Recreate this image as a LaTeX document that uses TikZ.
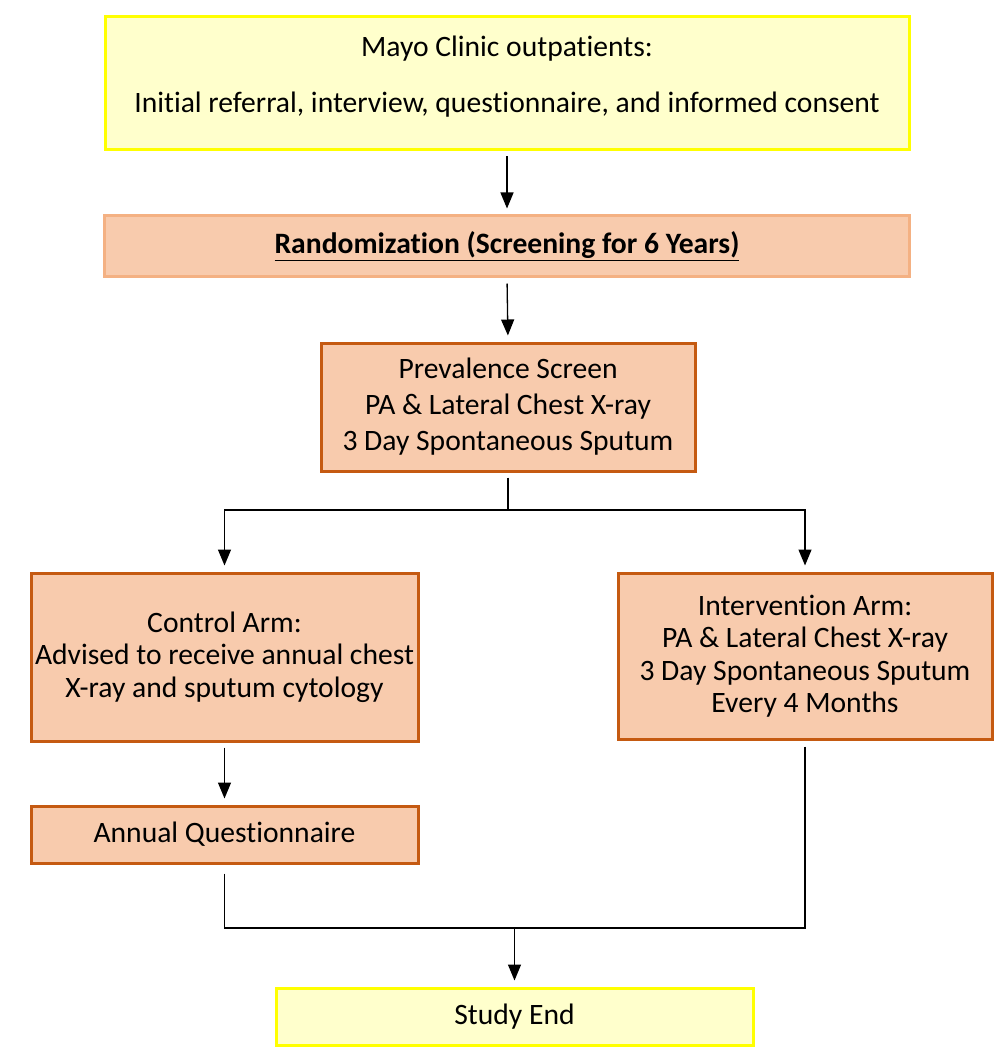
\documentclass[tikz,border=0pt]{standalone}
\usepackage{fontspec}
\setmainfont{Carlito}[Ligatures={NoCommon,NoRare,NoContextual},Contextuals=NoAlternate]
\usetikzlibrary{arrows.meta,positioning}
\definecolor{ylfill}{HTML}{FFFFCC}
\definecolor{yldraw}{HTML}{FFFF00}
\definecolor{orfill}{HTML}{F8CBAD}
\definecolor{ordraw}{HTML}{C55A11}
\definecolor{orlight}{HTML}{F4B183}
\tikzset{
  >={Triangle[length=16pt,width=13pt]},
  yb/.style ={draw=yldraw, fill=ylfill, line width=3pt, align=center, inner sep=0pt},
  ob/.style ={draw=ordraw, fill=orfill, line width=3pt, align=center, inner sep=0pt},
  lb/.style ={draw=orlight, fill=orfill, line width=3pt, align=center, inner sep=0pt},
  ln/.style ={line width=1.3pt, shorten <=5pt, shorten >=6pt}
}

\begin{document}
\begin{tikzpicture}[x=1pt,y=-1pt,font=\fontsize{29.6}{32.5}\selectfont]
\useasboundingbox (0,0) rectangle (1007,1064);
% boxes
\node[yb, minimum width=804pt, minimum height=133pt] (mayo) at (507,83.5)
  {Mayo Clinic outpatients:\\[23.5pt]Initial referral, interview, questionnaire, and informed consent\\[-14pt]};
\node[lb, minimum width=805pt, minimum height=61pt] (rand) at (507,246.5)
  {\textbf{\underline{Randomization (Screening for 6 Years)}}};
\node[ob, minimum width=374pt, minimum height=128pt, font=\fontsize{29.6}{36}\selectfont] (prev) at (508,407)
  {Prevalence Screen\\PA \& Lateral Chest X-ray\\3 Day Spontaneous Sputum};
\node[ob, minimum width=387pt, minimum height=168pt] (ctrl) at (224.5,657)
  {Control Arm:\\Advised to receive annual chest\\X-ray and sputum cytology};
\node[ob, minimum width=374pt, minimum height=166pt] (intv) at (805,656)
  {Intervention Arm:\\PA \& Lateral Chest X-ray\\3 Day Spontaneous Sputum\\Every 4 Months};
\node[ob, minimum width=387pt, minimum height=57pt] (annq) at (224.5,834.5)
  {Annual Questionnaire};
\node[yb, minimum width=477pt, minimum height=57pt] (fin) at (514.5,1016.5)
  {Study End};
% connectors
\draw[ln,->] (mayo.south) -- (rand.north);
\draw[ln,->] (rand.south) -- (prev.north);
\coordinate (sp) at (508,510);
\draw[line width=1.3pt, shorten <=5pt] (prev.south) -- (sp);
\draw[line width=1.3pt, shorten >=6pt, ->] (sp) -| (ctrl.north);
\draw[line width=1.3pt, shorten >=6pt, ->] (sp) -| (intv.north);
\draw[ln,->] (ctrl.south) -- (annq.north);
\coordinate (mg) at (514.5,928);
\draw[line width=1.3pt, shorten <=9pt] (annq.south) |- (mg);
\draw[line width=1.3pt, shorten <=6pt] (intv.south) |- (mg);
\draw[line width=1.3pt, shorten >=6pt, ->] (mg) -- (fin.north);
\end{tikzpicture}
\end{document}
